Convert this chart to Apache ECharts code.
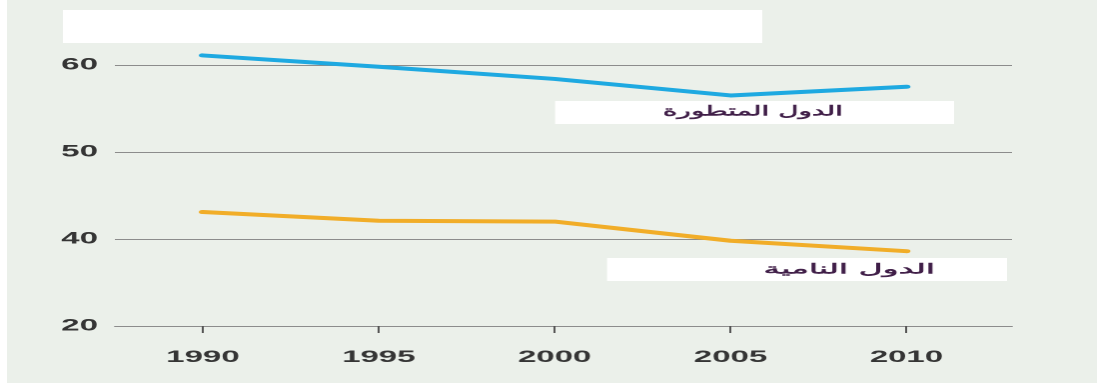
<!DOCTYPE html>
<html>
<head>
<meta charset="utf-8">
<script src="https://cdn.jsdelivr.net/npm/echarts@6/dist/echarts.min.js"></script>
<style>
  html, body { margin: 0; padding: 0; background: #ffffff; overflow: hidden; }
  /* The chart is laid out at half width and widened horizontally */
  #chart { width: 549px; height: 383px; transform: scaleX(1.998); transform-origin: 0 0; }
</style>
</head>
<body>
<div id="chart"></div>
<script>
// Years on the horizontal axis
const years = [1990, 1995, 2000, 2005, 2010];
// Share values per group
const developed = [61.1, 59.8, 58.4, 56.5, 57.5];
const developing = [43.1, 42.1, 42.0, 39.8, 38.6];
// Vertical axis: bottom gridline is labelled 20 (broken scale)
const yTickValues = [30, 40, 50, 60];
const yTickLabels = ['20', '40', '50', '60'];
// Group names
const developedName = 'الدول المتطورة';
const developingName = 'الدول النامية';

const chart = echarts.init(document.getElementById('chart'), null, { renderer: 'canvas', devicePixelRatio: 2 });

const pairs = (vals) => years.map((y, i) => [y, vals[i]]);

const tickFont = {
  color: '#353535',
  fontFamily: 'Liberation Sans, Arial, sans-serif',
  fontWeight: 'bold',
  fontSize: 16.5
};

// medium-weight label text
const nameStyle = (text) => ({
  text: text,
  fill: '#3f1d47',
  stroke: '#3f1d47',
  lineWidth: 0.45,
  font: '14px "DejaVu Sans"',
  align: 'right',
  verticalAlign: 'middle'
});

chart.setOption({
  backgroundColor: '#ebf0ea',
  animation: false,
  grid: { left: 57.5, right: 42.5, top: 65, bottom: 57 },
  xAxis: {
    type: 'value',
    min: 1987.5,
    max: 2013,
    axisLine: { show: true, lineStyle: { color: '#8c8c8c', width: 1 } },
    axisTick: { show: true, customValues: years, length: 7, lineStyle: { color: '#555', width: 1 } },
    axisLabel: Object.assign({
      customValues: years,
      margin: 23,
      formatter: (v) => String(v)
    }, tickFont),
    splitLine: { show: false }
  },
  yAxis: {
    type: 'value',
    min: 30,
    max: 60,
    interval: 10,
    axisLine: { show: false },
    axisTick: { show: false },
    axisLabel: Object.assign({
      margin: 8.5,
      formatter: (v) => {
        const i = yTickValues.indexOf(v);
        return i >= 0 ? yTickLabels[i] : '';
      }
    }, tickFont),
    splitLine: { show: true, lineStyle: { color: '#8c8c8c', width: 1 } }
  },
  series: [
    {
      name: developedName,
      type: 'line',
      data: pairs(developed),
      symbol: 'none',
      clip: false,
      lineStyle: { color: '#1ea9e1', width: 4, cap: 'round', join: 'round' }
    },
    {
      name: developingName,
      type: 'line',
      data: pairs(developing),
      symbol: 'none',
      clip: false,
      lineStyle: { color: '#f1ad28', width: 4, cap: 'round', join: 'round' }
    }
  ],
  graphic: [
    // page margin strip on the left
    { type: 'rect', left: 0, top: 0, shape: { width: 3.5, height: 383 }, style: { fill: '#ffffff' }, silent: true },
    // blank header panel
    { type: 'rect', left: 31.5, top: 10, shape: { width: 350, height: 33 }, style: { fill: '#ffffff' }, silent: true },
    // developed label
    { type: 'rect', left: 277.8, top: 101, shape: { width: 199.7, height: 23 }, style: { fill: '#ffffff' }, silent: true },
    { type: 'text', x: 421.9, y: 112, style: nameStyle(developedName), silent: true },
    // developing label (set slightly wider)
    { type: 'rect', left: 303.8, top: 258, shape: { width: 200.2, height: 23 }, style: { fill: '#ffffff' }, silent: true },
    { type: 'text', x: 468, y: 270, scaleX: 1.18, style: nameStyle(developingName), silent: true }
  ]
});
</script>
</body>
</html>
